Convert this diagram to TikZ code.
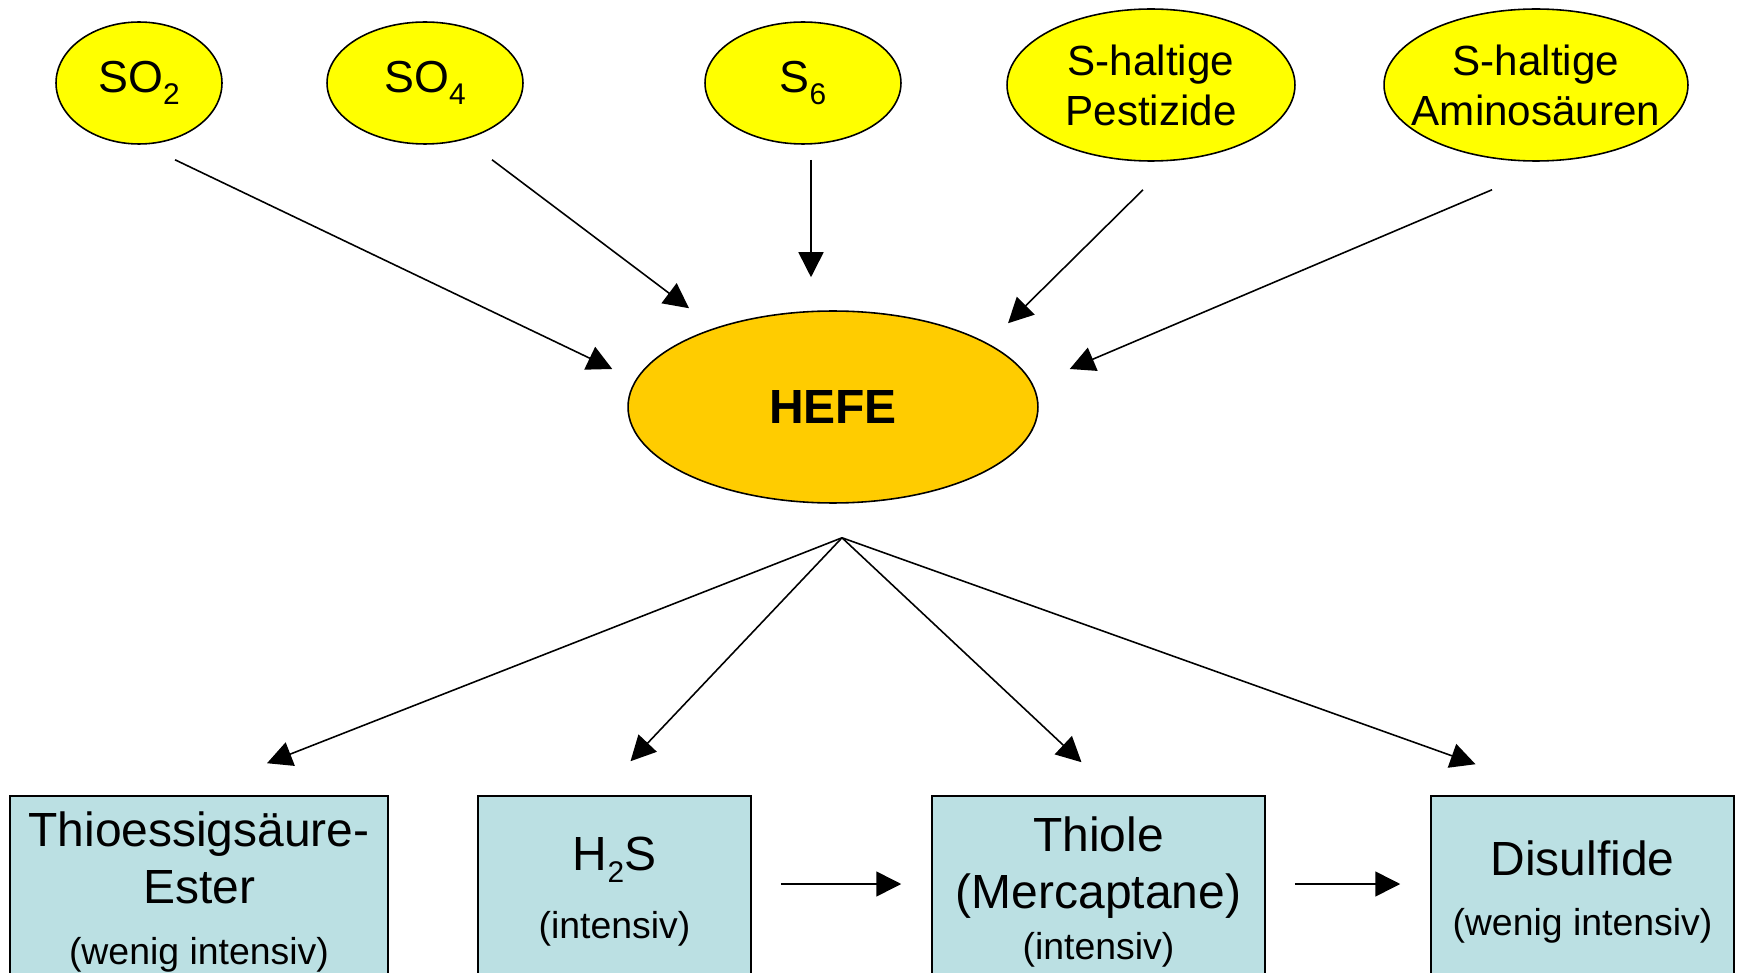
\documentclass[tikz,border=0pt]{standalone}
\usepackage{fontspec}
\setmainfont{Liberation Sans}
\usetikzlibrary{shapes.geometric, arrows.meta, calc}
\definecolor{srcyellow}{HTML}{FFFF00}
\definecolor{yeastorange}{HTML}{FFCC00}
\definecolor{prodblue}{HTML}{BBE0E3}
\newcommand{\smallnote}[1]{{\fontsize{21.3}{25}\selectfont #1}}
\newcommand{\chemsub}[1]{\raisebox{-6.5pt}{\fontsize{17}{17}\selectfont #1}}

\begin{document}
\begin{tikzpicture}[
  x=0.02cm, y=-0.02cm,
  src/.style={ellipse, draw, line width=0.9pt, fill=srcyellow, inner sep=0pt,
              align=center, font=\fontsize{24}{28.5}\selectfont},
  yeast/.style={ellipse, draw, line width=0.9pt, fill=yeastorange, inner sep=0pt,
                minimum width=8.2cm, minimum height=3.84cm,
                font=\fontsize{27.3}{32}\selectfont\bfseries},
  prod/.style={rectangle, draw, line width=0.9pt, fill=prodblue, align=center,
               minimum height=3.84cm, inner sep=2pt,
               font=\fontsize{27.3}{32.4}\selectfont},
  arr/.style={-{Triangle[length=0.5cm, width=0.5cm]}, line width=0.9pt}]
  \useasboundingbox (0,0) rectangle (1739,973);
  \clip (0,0) rectangle (1739,973);
  \node[src, minimum width=3.32cm, minimum height=2.44cm, font=\fontsize{25.5}{30}\selectfont] (so2) at (139,83) {SO\chemsub{2}};
  \node[src, minimum width=3.92cm, minimum height=2.44cm, font=\fontsize{25.5}{30}\selectfont] (so4) at (425,83) {SO\chemsub{4}};
  \node[src, minimum width=3.92cm, minimum height=2.44cm, font=\fontsize{25.5}{30}\selectfont] (s6) at (803,83) {S\chemsub{6}};
  \node[src, minimum width=5.76cm, minimum height=3.04cm] (pest) at (1151,85) {S-haltige\\Pestizide};
  \node[src, minimum width=6.08cm, minimum height=3.04cm] (amino) at (1536,85) {S-haltige\\\makebox[0pt]{Aminosäuren}};
  \node[yeast] (hefe) at (833,407) {HEFE};
  \node[prod, minimum width=7.56cm] (thio) at (199,892) {Thioessigsäure-\\Ester\\[2.8pt]\smallnote{(wenig intensiv)}};
  \node[prod, minimum width=5.46cm] (hs) at (614.5,892) {H\chemsub{2}S\\[6.3pt]\smallnote{(intensiv)}};
  \node[prod, minimum width=6.66cm] (thiol) at (1098.5,892) {Thiole\\(Mercaptane)\\[-3.4pt]\smallnote{(intensiv)}};
  \node[prod, minimum width=6.06cm] (disulf) at (1582.5,892) {Disulfide\\[1.7pt]\smallnote{(wenig intensiv)}};
  \draw[arr] ($(so2.south)+(36,15)$) -- ($(hefe.west)+(-15,-38)$);
  \draw[arr] ($(so4.south)+(67,15)$) -- ($(hefe.north)+(-144,-2)$);
  \draw[arr] ($(s6.south)+(8,15)$) -- ($(hefe.north)+(-22,-33)$);
  \draw[arr] ($(pest.south)+(-8,28)$) -- ($(hefe.north)+(175,13)$);
  \draw[arr] ($(amino.south)+(-44,28)$) -- ($(hefe.east)+(31,-38)$);
  \coordinate (split) at ($(hefe.south)+(9,34)$);
  \draw[arr] (split) -- ($(thio.north)+(68,-32)$);
  \draw[arr] (split) -- ($(hs.north)+(16,-34)$);
  \draw[arr] (split) -- ($(thiol.north)+(-17,-33)$);
  \draw[arr] (split) -- ($(disulf.north)+(-107,-31)$);
  \draw[arr] ($(hs.east)+(29,-8)$) -- ($(thiol.west)+(-30,-8)$);
  \draw[arr] ($(thiol.east)+(29,-8)$) -- ($(disulf.west)+(-30,-8)$);
\end{tikzpicture}
\end{document}
